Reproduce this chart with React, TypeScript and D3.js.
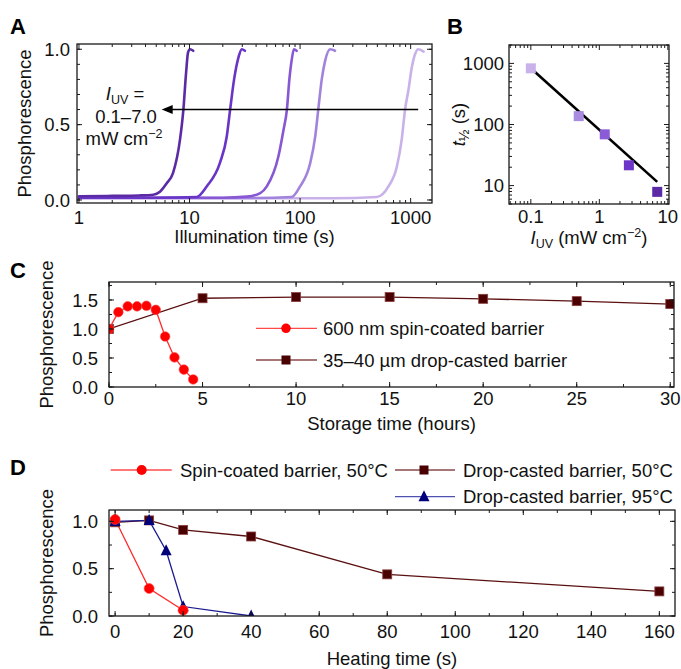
import React from 'react';
import * as d3 from 'd3';

const FONT = '"Liberation Sans", Arial, Helvetica, sans-serif';
const FS = 18.5;

type Pt = [number, number];

// Panel A: phosphorescence vs illumination time (s), one curve per UV intensity (7.0 -> 0.1 mW cm-2)
const curveA1: Pt[] = [[1, 0.025], [2, 0.027], [3.5, 0.03], [4.7, 0.035], [5.4, 0.055], [6.2, 0.11], [7.1, 0.18], [8.2, 0.4], [8.8, 0.6], [9.3, 0.84], [9.7, 0.98], [10.1, 1.0], [10.8, 0.99]];
const curveA2: Pt[] = [[1, 0.015], [5, 0.015], [11.6, 0.02], [14.3, 0.09], [18.9, 0.25], [21.7, 0.42], [23.3, 0.6], [25.3, 0.8], [27.8, 0.95], [29.7, 1.0], [31.7, 0.99]];
const curveA3: Pt[] = [[1, 0.015], [20, 0.015], [33, 0.022], [43.6, 0.045], [50, 0.09], [63.7, 0.29], [70.6, 0.46], [76, 0.6], [80, 0.8], [84, 0.93], [88, 1.0], [93, 0.99]];
const curveA4: Pt[] = [[1, 0.013], [40, 0.013], [84, 0.02], [100, 0.09], [123, 0.24], [137, 0.42], [146, 0.6], [157, 0.8], [168, 0.92], [187, 1.0], [207, 0.99]];
const curveA5: Pt[] = [[1, 0.012], [200, 0.012], [495, 0.02], [630, 0.09], [750, 0.22], [830, 0.4], [890, 0.6], [955, 0.73], [1025, 0.88], [1100, 0.97], [1170, 1.0], [1310, 0.985]];
const curvesA = [curveA1, curveA2, curveA3, curveA4, curveA5];
const curveAColors = ['#5b2ba5', '#6935c6', '#8757d4', '#a283dc', '#c8b2e9'];
const arrowA = { from: 1170, to: 5.6, level: 0.6 };
const aYTicks = [0, 0.5, 1.0];
const aXTicks = [1, 10, 100, 1000];

// Panel B: half time vs UV intensity
const bIntensity = [0.1, 0.5, 1.2, 2.7, 7.0];
const bHalfTime = [830, 137, 69, 21.5, 7.9];
const bColors = ['#c8b2e9', '#a98cdf', '#8a5bd5', '#6c36c8', '#5b2ba5'];
const bFit: Pt[] = [[0.1, 830], [7.0, 11.5]];
const bXTicks = [0.1, 1, 10];
const bYTicks = [10, 100, 1000];

// Panel C: storage time (hours)
const cSpinTime = [0, 0.5, 1, 1.5, 2, 2.5, 3, 3.5, 4, 4.5];
const cSpinPhos = [1.0, 1.29, 1.39, 1.39, 1.4, 1.33, 0.87, 0.51, 0.3, 0.13];
const cDropTime = [0, 5, 10, 15, 20, 25, 30];
const cDropPhos = [1.0, 1.53, 1.55, 1.55, 1.52, 1.48, 1.43];
const cXTicks = [0, 5, 10, 15, 20, 25, 30];
const cYTicks = [0, 0.5, 1.0, 1.5];

// Panel D: heating time (s)
const dSpinTime = [0, 10, 20];
const dSpinPhos = [1.02, 0.29, 0.06];
const dDrop50Time = [0, 10, 20, 40, 80, 160];
const dDrop50Phos = [0.99, 1.01, 0.91, 0.84, 0.44, 0.26];
const dDrop95Time = [0, 10, 15, 20, 40];
const dDrop95Phos = [1.0, 1.01, 0.69, 0.1, 0.0];
const dXTicks = [0, 20, 40, 60, 80, 100, 120, 140, 160];
const dYTicks = [0, 0.5, 1.0];

const RED = '#ff0000';
const MAROON = '#4a0000';
const NAVY = '#00007a';

// scales
const xA = d3.scaleLog().domain([0.96, 1560]).range([77, 432]);
const yA = d3.scaleLinear().domain([-0.02, 1.035]).range([203, 44]);
const xB = d3.scaleLog().domain([0.048, 10.4]).range([509, 669]);
const yB = d3.scaleLog().domain([5, 2000]).range([204, 45]);
const xC = d3.scaleLinear().domain([0, 30.2]).range([109, 674]);
const yC = d3.scaleLinear().domain([0, 1.81]).range([387, 282]);
const xD = d3.scaleLinear().domain([-1.8, 164.6]).range([109, 675]);
const yD = d3.scaleLinear().domain([0, 1.12]).range([616, 510]);

const logMinor = (dom: number[]) => {
  const out: number[] = [];
  for (let k = Math.floor(Math.log10(dom[0])); k <= Math.ceil(Math.log10(dom[1])); k++) {
    for (let m = 2; m <= 9; m++) {
      const v = m * Math.pow(10, k);
      if (v >= dom[0] && v <= dom[1]) out.push(v);
    }
  }
  return out;
};
const linMinor = (dom: number[], step: number) => {
  const out: number[] = [];
  for (let v = Math.ceil(dom[0] / step) * step; v <= dom[1] + 1e-9; v += step) out.push(+v.toFixed(6));
  return out;
};

function Frame({ x, y, xMajor, xMinor, yMajor, yMinor }: any) {
  const [xl, xr] = x.range();
  const [yb, yt] = y.range();
  const st = { stroke: '#1a1a1a', strokeWidth: 1 };
  return (
    <g>
      {xMinor.map((v: number, i: number) => (
        <g key={'xm' + i} {...st}>
          <line x1={x(v)} x2={x(v)} y1={yb} y2={yb - 3} />
          <line x1={x(v)} x2={x(v)} y1={yt} y2={yt + 3} />
        </g>
      ))}
      {xMajor.map((v: number, i: number) => (
        <g key={'xM' + i} {...st}>
          <line x1={x(v)} x2={x(v)} y1={yb} y2={yb - 5} />
          <line x1={x(v)} x2={x(v)} y1={yt} y2={yt + 5} />
        </g>
      ))}
      {yMinor.map((v: number, i: number) => (
        <g key={'ym' + i} {...st}>
          <line x1={xl} x2={xl + 3} y1={y(v)} y2={y(v)} />
          <line x1={xr} x2={xr - 3} y1={y(v)} y2={y(v)} />
        </g>
      ))}
      {yMajor.map((v: number, i: number) => (
        <g key={'yM' + i} {...st}>
          <line x1={xl} x2={xl + 5} y1={y(v)} y2={y(v)} />
          <line x1={xr} x2={xr - 5} y1={y(v)} y2={y(v)} />
        </g>
      ))}
      <rect x={xl} y={yt} width={xr - xl} height={yb - yt} fill="none" stroke="#1a1a1a" strokeWidth={1.3} />
    </g>
  );
}

function TickLabels({ x, y, xTicks, yTicks, xFmt, yFmt, xBase, yRight }: any) {
  return (
    <g fontSize={FS} fill="#111">
      {xTicks.map((v: number, i: number) => (
        <text key={'x' + i} x={x(v)} y={xBase} textAnchor="middle">{xFmt(v)}</text>
      ))}
      {yTicks.map((v: number, i: number) => (
        <text key={'y' + i} x={yRight} y={y(v)} dy="0.36em" textAnchor="end">{yFmt(v)}</text>
      ))}
    </g>
  );
}

const Square = ({ cx, cy, s, fill, stroke }: any) => (
  <rect x={cx - s / 2} y={cy - s / 2} width={s} height={s} fill={fill} stroke={stroke} strokeWidth={0.8} />
);
const Tri = ({ cx, cy, s, fill }: any) => (
  <polygon points={`${cx},${cy - s * 0.58} ${cx - s / 2},${cy + s * 0.42} ${cx + s / 2},${cy + s * 0.42}`} fill={fill} />
);

export default function App() {
  const lineA = d3.line<Pt>().x((d) => xA(d[0])).y((d) => yA(d[1])).curve(d3.curveMonotoneX);
  const lineB = d3.line<Pt>().x((d) => xB(d[0])).y((d) => yB(d[1]));
  const zip = (a: number[], b: number[]) => a.map((v, i) => [v, b[i]] as Pt);
  const lineC = d3.line<Pt>().x((d) => xC(d[0])).y((d) => yC(d[1]));
  const lineD = d3.line<Pt>().x((d) => xD(d[0])).y((d) => yD(d[1]));

  const fmt1 = (v: number) => v.toFixed(1);
  const arrowY = yA(arrowA.level);
  const arrowX0 = xA(arrowA.from);
  const arrowX1 = xA(arrowA.to);

  return (
    <svg width={681} height={669} style={{ position: 'absolute', left: 0, top: 0, background: '#fff' }} fontFamily={FONT}>
      <defs>
        <clipPath id="clipA"><rect x={77} y={44} width={355} height={159} /></clipPath>
        <clipPath id="clipC"><rect x={109} y={282} width={565} height={105} /></clipPath>
        <clipPath id="clipD"><rect x={109} y={510} width={566} height={106} /></clipPath>
      </defs>

      {/* Panel letters */}
      <g fontWeight="bold" fontSize={22} fill="#000">
        <text x={10} y={34}>A</text>
        <text x={447} y={34}>B</text>
        <text x={10} y={278}>C</text>
        <text x={10} y={475}>D</text>
      </g>

      {/* ---------- Panel A ---------- */}
      <g clipPath="url(#clipA)">
        {curvesA.map((c, i) => (
          <path key={i} d={lineA(c) || ''} fill="none" stroke={curveAColors[i]} strokeWidth={2.6} strokeLinecap="round" />
        )).reverse()}
      </g>
      <Frame x={xA} y={yA} xMajor={aXTicks} xMinor={logMinor(xA.domain())} yMajor={aYTicks} yMinor={linMinor([0, 1], 0.1)} />
      <TickLabels x={xA} y={yA} xTicks={aXTicks} yTicks={aYTicks} xFmt={(v: number) => String(v)} yFmt={fmt1} xBase={224} yRight={70} />
      <line x1={arrowX0} x2={arrowX1 + 9} y1={arrowY} y2={arrowY} stroke="#000" strokeWidth={1.5} />
      <polygon points={`${arrowX1},${arrowY} ${arrowX1 + 11},${arrowY - 4.5} ${arrowX1 + 11},${arrowY + 4.5}`} fill="#000" />
      <g fontSize={FS} fill="#111" textAnchor="middle">
        <text x={125} y={100}>
          <tspan fontStyle="italic">I</tspan>
          <tspan fontSize={12.5} dy={4}>UV</tspan>
          <tspan dy={-4}> =</tspan>
        </text>
        <text x={126} y={123}>0.1–7.0</text>
        <text x={124} y={145}>
          mW cm<tspan fontSize={12.5} dy={-7}>−2</tspan>
        </text>
      </g>
      <text x={254.5} y={243} fontSize={FS} textAnchor="middle" fill="#111">Illumination time (s)</text>
      <text transform="translate(31,123.5) rotate(-90)" fontSize={FS} textAnchor="middle" fill="#111">Phosphorescence</text>

      {/* ---------- Panel B ---------- */}
      <path d={lineB(bFit) || ''} stroke="#000" strokeWidth={2.6} fill="none" />
      {bIntensity.map((v, i) => (
        <Square key={i} cx={xB(v)} cy={yB(bHalfTime[i])} s={10} fill={bColors[i]} stroke="none" />
      ))}
      <Frame x={xB} y={yB} xMajor={bXTicks} xMinor={logMinor(xB.domain())} yMajor={bYTicks} yMinor={logMinor(yB.domain())} />
      <TickLabels x={xB} y={yB} xTicks={bXTicks} yTicks={bYTicks} xFmt={(v: number) => String(v)} yFmt={(v: number) => String(v)} xBase={223} yRight={504} />
      <text x={589} y={244} fontSize={FS} textAnchor="middle" fill="#111">
        <tspan fontStyle="italic">I</tspan>
        <tspan fontSize={12.5} dy={4}>UV</tspan>
        <tspan dy={-4}> (mW cm</tspan>
        <tspan fontSize={12.5} dy={-7}>−2</tspan>
        <tspan dy={7}>)</tspan>
      </text>
      <text transform="translate(465,124.5) rotate(-90)" fontSize={FS} textAnchor="middle" fill="#111">
        <tspan fontStyle="italic">t</tspan>
        <tspan fontSize={14} dy={4}>½</tspan>
        <tspan dy={-4}> (s)</tspan>
      </text>

      {/* ---------- Panel C ---------- */}
      <g clipPath="url(#clipC)">
        <path d={lineC(zip(cDropTime, cDropPhos)) || ''} fill="none" stroke="#5a1010" strokeWidth={1.3} />
        <path d={lineC(zip(cSpinTime, cSpinPhos)) || ''} fill="none" stroke="#ff2a2a" strokeWidth={1.3} />
        {cDropTime.map((t, i) => (
          <Square key={'d' + i} cx={xC(t)} cy={yC(cDropPhos[i])} s={9} fill={MAROON} stroke="#8a4040" />
        ))}
        {cSpinTime.map((t, i) => (
          <circle key={'s' + i} cx={xC(t)} cy={yC(cSpinPhos[i])} r={4.8} fill={RED} stroke="#ff4a4a" strokeWidth={0.6} />
        ))}
      </g>
      <Frame x={xC} y={yC} xMajor={cXTicks} xMinor={linMinor(xC.domain(), 2.5)} yMajor={cYTicks} yMinor={linMinor(yC.domain(), 0.25)} />
      <TickLabels x={xC} y={yC} xTicks={cXTicks} yTicks={cYTicks} xFmt={(v: number) => String(v)} yFmt={fmt1} xBase={405} yRight={98} />
      {/* legend C */}
      <line x1={256} x2={317} y1={328.3} y2={328.3} stroke="#ff4a4a" strokeWidth={1.3} />
      <circle cx={286} cy={328.3} r={4.8} fill={RED} />
      <text x={323} y={335} fontSize={FS} fill="#111">600 nm spin-coated barrier</text>
      <line x1={256} x2={317} y1={360} y2={360} stroke="#8a4a4a" strokeWidth={1.3} />
      <Square cx={286} cy={360} s={9} fill={MAROON} stroke="none" />
      <text x={323} y={366.5} fontSize={FS} fill="#111">35–40 µm drop-casted barrier</text>
      <text x={391.5} y={430} fontSize={FS} textAnchor="middle" fill="#111">Storage time (hours)</text>
      <text transform="translate(53,334.5) rotate(-90)" fontSize={FS} textAnchor="middle" fill="#111">Phosphorescence</text>

      {/* ---------- Panel D ---------- */}
      <g clipPath="url(#clipD)">
        <path d={lineD(zip(dDrop50Time, dDrop50Phos)) || ''} fill="none" stroke="#5a1010" strokeWidth={1.3} />
        <path d={lineD(zip(dDrop95Time, dDrop95Phos)) || ''} fill="none" stroke="#1a1a90" strokeWidth={1.3} />
        <path d={lineD(zip(dSpinTime, dSpinPhos)) || ''} fill="none" stroke="#ff2a2a" strokeWidth={1.3} />
        {dDrop50Time.map((t, i) => (
          <Square key={'d' + i} cx={xD(t)} cy={yD(dDrop50Phos[i])} s={9} fill={MAROON} stroke="#8a4040" />
        ))}
        {dDrop95Time.map((t, i) => (
          <Tri key={'t' + i} cx={xD(t)} cy={yD(dDrop95Phos[i])} s={11} fill={NAVY} />
        ))}
        {dSpinTime.map((t, i) => (
          <circle key={'s' + i} cx={xD(t)} cy={yD(dSpinPhos[i])} r={5} fill={RED} stroke="#ff4a4a" strokeWidth={0.6} />
        ))}
      </g>
      <Frame x={xD} y={yD} xMajor={dXTicks} xMinor={linMinor([0, 160], 10)} yMajor={dYTicks} yMinor={linMinor(yD.domain(), 0.25)} />
      <TickLabels x={xD} y={yD} xTicks={dXTicks} yTicks={dYTicks} xFmt={(v: number) => String(v)} yFmt={fmt1} xBase={638} yRight={98} />
      {/* legend D */}
      <line x1={110.7} x2={171.7} y1={470} y2={470} stroke="#ff4a4a" strokeWidth={1.3} />
      <circle cx={141.7} cy={470} r={5} fill={RED} />
      <text x={180} y={476.5} fontSize={FS} fill="#111">Spin-coated barrier, 50°C</text>
      <line x1={395} x2={455} y1={470} y2={470} stroke="#8a4a4a" strokeWidth={1.3} />
      <Square cx={424} cy={470} s={9} fill={MAROON} stroke="none" />
      <text x={463} y={476.5} fontSize={FS} fill="#111">Drop-casted barrier, 50°C</text>
      <line x1={395} x2={455} y1={496.7} y2={496.7} stroke="#5050b0" strokeWidth={1.3} />
      <Tri cx={424} cy={496.7} s={11} fill={NAVY} />
      <text x={463} y={503} fontSize={FS} fill="#111">Drop-casted barrier, 95°C</text>
      <text x={392} y={665} fontSize={FS} textAnchor="middle" fill="#111">Heating time (s)</text>
      <text transform="translate(53,563) rotate(-90)" fontSize={FS} textAnchor="middle" fill="#111">Phosphorescence</text>
    </svg>
  );
}
